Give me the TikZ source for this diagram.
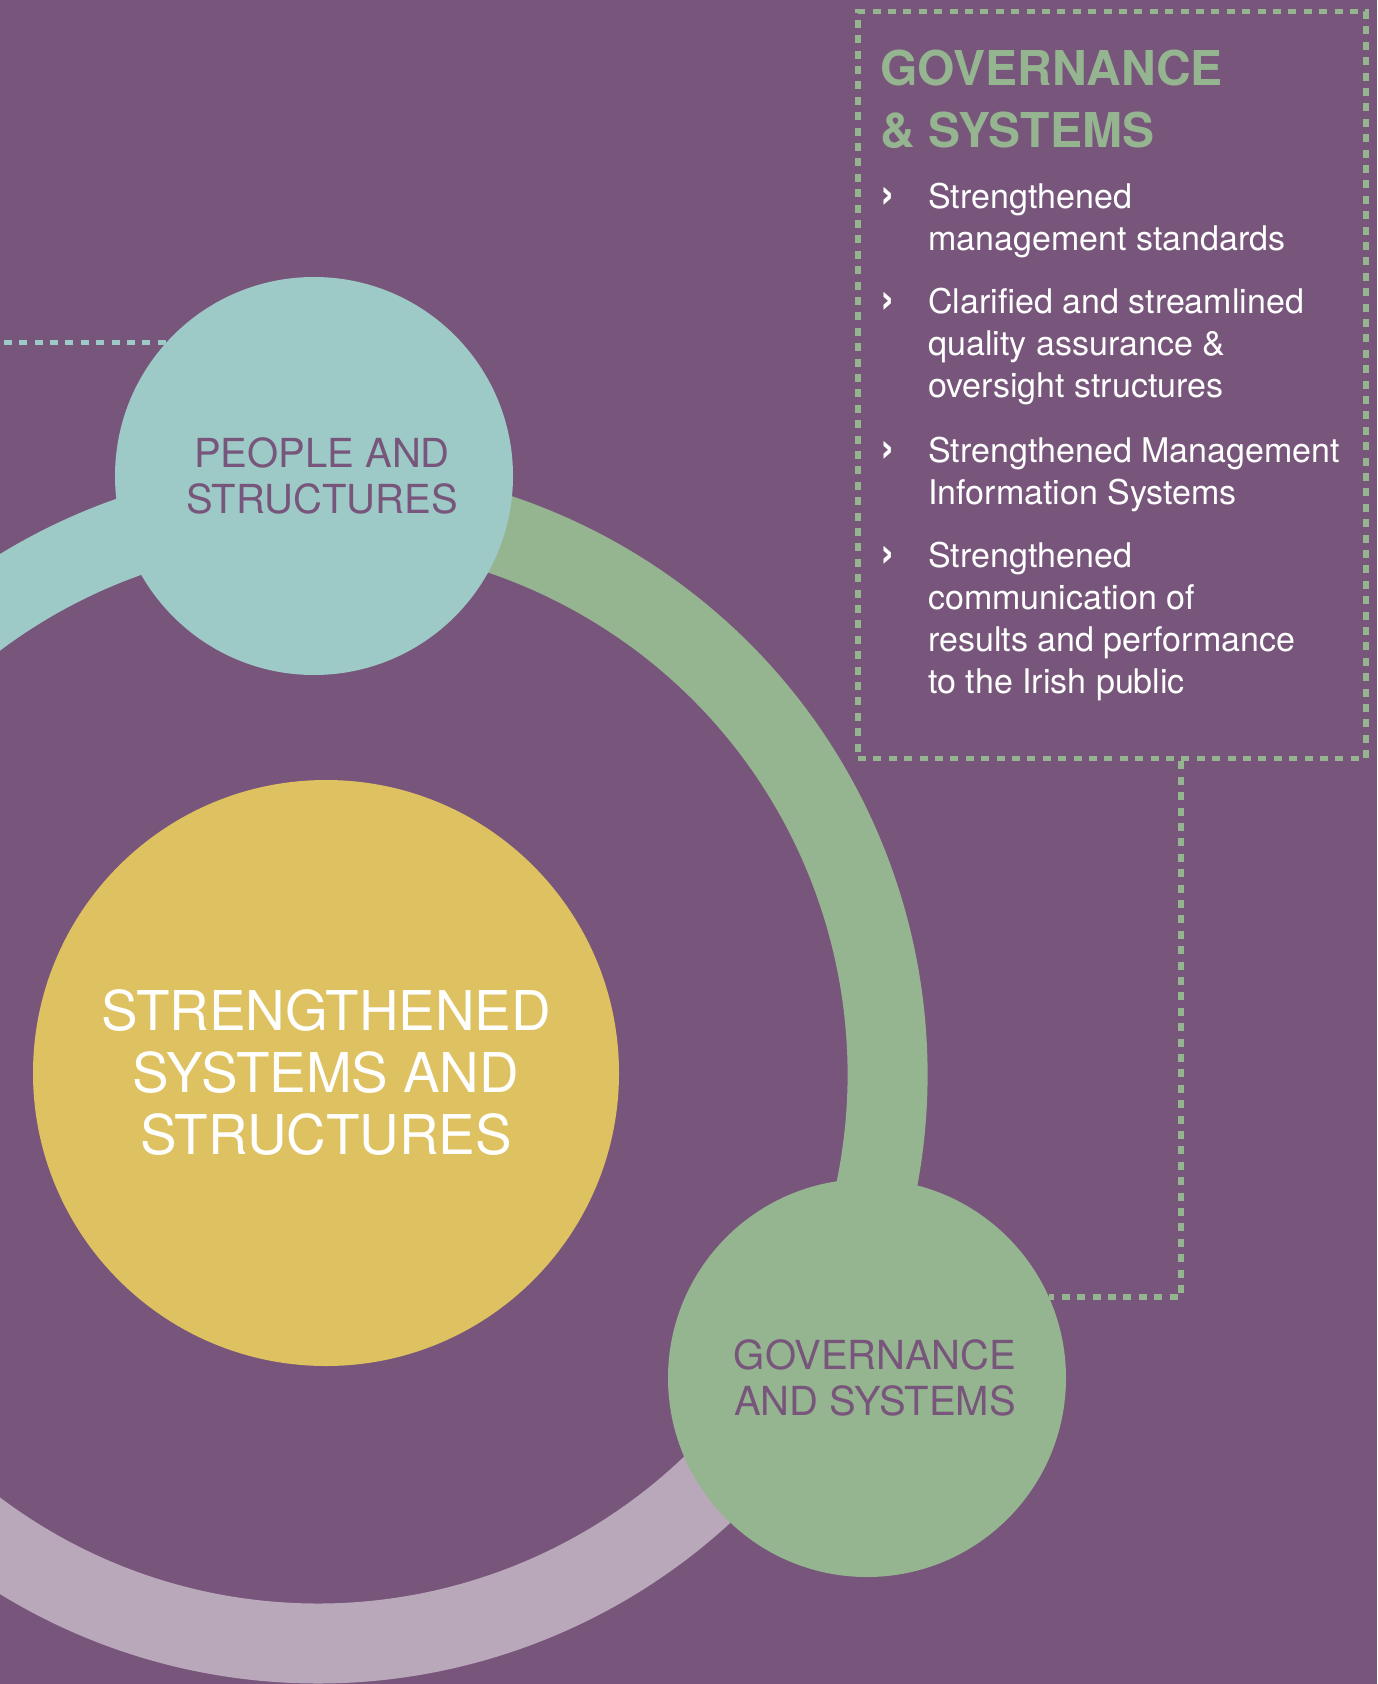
\documentclass[tikz,border=0pt]{standalone}
\usepackage{fontspec}
\setmainfont{TeX Gyre Heros}
\usepackage{tikz}
\definecolor{plum}{RGB}{120,86,123}
\definecolor{seafoam}{RGB}{157,202,199}
\definecolor{sage}{RGB}{149,181,144}
\definecolor{mustard}{RGB}{222,193,96}
\definecolor{lilac}{RGB}{185,168,186}
\newcommand{\chev}{\llap{{\fontsize{22}{21}\selectfont\bfseries ›}\hspace{16.5pt}}}

\begin{document}
\begin{tikzpicture}[x=0.5pt,y=0.5pt,yscale=-1,xscale=1,
  ringarc/.style={line width=40pt},
  bubble/.style={circle,minimum size=199pt,inner sep=0pt,align=center,text=plum,font=\fontsize{20}{23.3}\selectfont},
  dotline/.style={line width=2.9pt,dash pattern=on 4pt off 3.7pt},
  item/.style={anchor=north west,inner sep=0pt,align=left,text=white,font=\fontsize{17}{21}\selectfont}]
\useasboundingbox (0,0) rectangle (1377,1684);
\clip (0,0) rectangle (1377,1684);
\fill[plum] (0,0) rectangle (1377,1684);

%Shape: Arc
\draw[ringarc,draw=seafoam] (318,1074) ++(-90:569.5) arc[start angle=-90,end angle=-185,radius=569.5];
%Shape: Arc
\draw[ringarc,draw=sage] (318,1074) ++(30:569.5) arc[start angle=30,end angle=-92,radius=569.5];
%Shape: Arc
\draw[ringarc,draw=lilac] (318,1074) ++(182:569.5) arc[start angle=182,end angle=28,radius=569.5];

%Shape: Circle
\node[bubble,fill=mustard,minimum size=293pt,text=white,font=\fontsize{27.4}{31}\selectfont] (core) at (326,1073) {STRENGTHENED\\SYSTEMS AND\\STRUCTURES};
%Shape: Circle
\node[bubble,fill=seafoam] (people) at (314,476) {\hspace*{8pt}PEOPLE AND\\\hspace*{8pt}STRUCTURES};
%Shape: Circle
\node[bubble,fill=sage] (gov) at (867,1378) {\hspace*{8pt}GOVERNANCE\\\hspace*{8pt}AND SYSTEMS};

%Shape: Rectangle
\node[draw=sage,dotline,minimum width=254pt,minimum height=373.4pt,inner sep=0pt] (govbox) at (1112,385) {};

%Straight Lines
\coordinate (edge) at (0,0);
\draw[dotline,draw=seafoam] (people.138.5) -- (people.138.5 -| edge);
%Straight Lines
\coordinate (drop) at (1181,0);
\draw[dotline,draw=sage] (govbox.south -| drop) |- (gov.24.3);

% Text Node
\node[anchor=north west,inner sep=0pt,align=left,text=sage,font=\fontsize{24}{31}\selectfont\bfseries] (heading) at (880,49.5) {GOVERNANCE\\\& SYSTEMS};
% Text Node
\node[item] (item1) at (928,183) {\chev Strengthened\\management standards};
% Text Node
\node[item] (item2) at (928,288) {\chev Clarified and streamlined\\quality assurance \&\\oversight structures};
% Text Node
\node[item] (item3) at (928,437) {\chev Strengthened Management\\Information Systems};
% Text Node
\node[item] (item4) at (928,542) {\chev Strengthened\\communication of\\results and performance\\to the Irish public};

\end{tikzpicture}
\end{document}
